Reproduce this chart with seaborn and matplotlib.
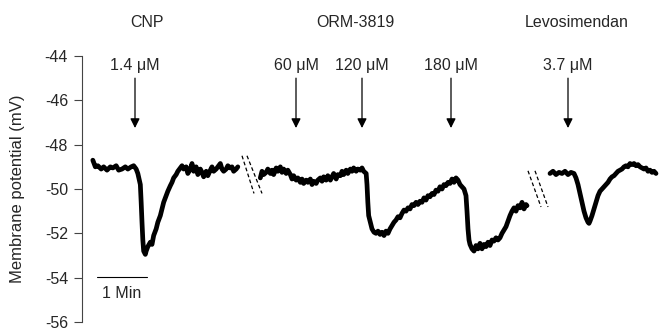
import numpy as np
import pandas as pd
import matplotlib
matplotlib.use("Agg")
import matplotlib.pyplot as plt
import seaborn as sns

# Membrane potential trace (time in s, potential in mV)
cnp_t = [13, 16, 19, 23, 26, 30, 34, 37, 41, 44, 48, 52, 55, 59, 62, 65, 67, 70, 71, 72,
         73, 74, 76, 77, 79, 82, 84, 86, 89, 91, 94, 96, 98, 101, 103, 106, 108, 110, 113,
         115, 118, 120, 122, 125, 127, 130, 132, 134, 137, 139, 142, 144, 146, 149, 151,
         154, 156, 158, 161, 163, 166, 168, 170, 173, 175, 178, 180, 182, 185, 187]
cnp_mv = [-48.7, -49.0, -48.95, -49.1, -49.0, -49.15, -49.0, -49.05, -48.95, -49.15, -49.1,
          -49.0, -49.1, -49.0, -48.95, -49.1, -49.3, -49.8, -50.6, -51.5, -52.3, -52.8,
          -52.95, -52.8, -52.6, -52.4, -52.5, -52.1, -51.8, -51.5, -51.2, -50.9, -50.6,
          -50.3, -50.1, -49.85, -49.7, -49.5, -49.35, -49.2, -49.05, -48.95, -49.1, -49.0,
          -49.3, -49.1, -48.85, -49.2, -49.0, -49.35, -49.1, -49.25, -49.45, -49.2, -49.4,
          -49.15, -49.0, -49.2, -49.1, -49.0, -48.85, -49.1, -49.2, -49.1, -48.95, -49.05,
          -49.0, -49.2, -49.1, -49.0]

orm_t = [214, 216, 218, 221, 223, 226, 228, 230, 233, 235, 238, 240, 242, 245, 247, 250,
         252, 254, 257, 259, 262, 264, 266, 269, 271, 274, 276, 278, 281, 283, 286, 288,
         290, 293, 295, 298, 300, 302, 305, 307, 310, 312, 314, 317, 319, 322, 324, 326,
         329, 331, 334, 336, 338, 341, 342, 343, 344, 346, 348, 350.4, 352.8, 355.2, 357.6,
         360, 362.4, 364.8, 367.2, 369.6, 372, 374.4, 376.8, 379.2, 381.6, 384, 386.4,
         388.8, 391.2, 393.6, 396, 398.4, 400.8, 403.2, 405.6, 408, 410.4, 412.8, 415.2,
         417.6, 420, 422.4, 424.8, 427.2, 429.6, 432, 434.4, 436.8, 439.2, 441.6, 444,
         446.4, 448.8, 451.2, 453.6, 456, 458.4, 460.8, 462, 463.2, 464.4, 465.6, 468,
         470.4, 472.8, 475.2, 477.6, 480, 482.4, 484.8, 487.2, 489.6, 492, 494.4, 496.8,
         499.2, 501.6, 504, 506.4, 508.8, 511.2, 513.6, 516, 518.4, 520.8, 523.2, 525.6,
         528, 530.4, 532.8, 534]
orm_mv = [-49.5, -49.2, -49.35, -49.25, -49.1, -49.3, -49.15, -49.35, -49.05, -49.2, -49.0,
          -49.25, -49.1, -49.3, -49.15, -49.35, -49.55, -49.4, -49.6, -49.5, -49.7, -49.55,
          -49.75, -49.6, -49.7, -49.55, -49.8, -49.65, -49.75, -49.6, -49.5, -49.65, -49.45,
          -49.6, -49.4, -49.6, -49.45, -49.3, -49.55, -49.35, -49.4, -49.2, -49.35, -49.15,
          -49.3, -49.1, -49.2, -49.05, -49.2, -49.1, -49.15, -49.05, -49.2, -49.3, -49.8,
          -50.6, -51.2, -51.5, -51.8, -51.95, -52.0, -51.9, -52.05, -51.95, -52.1, -51.9,
          -52.0, -51.8, -51.65, -51.5, -51.4, -51.25, -51.3, -51.1, -50.95, -51.0, -50.85,
          -50.9, -50.7, -50.75, -50.6, -50.7, -50.55, -50.6, -50.4, -50.5, -50.3, -50.35,
          -50.2, -50.25, -50.05, -50.1, -49.9, -50.0, -49.8, -49.85, -49.7, -49.75, -49.55,
          -49.7, -49.5, -49.6, -49.8, -49.9, -50.0, -50.3, -51.0, -51.8, -52.3, -52.5,
          -52.7, -52.8, -52.55, -52.7, -52.45, -52.7, -52.5, -52.6, -52.4, -52.55, -52.3,
          -52.35, -52.2, -52.3, -52.2, -52.0, -51.85, -51.7, -51.45, -51.2, -51.0, -50.85,
          -51.0, -50.75, -50.85, -50.6, -50.9, -50.7, -50.75]

levo_t = [561.6, 565.2, 568.8, 572.4, 576, 579.6, 583.2, 586.8, 590.4, 592.8, 595.2, 597.6,
          600, 602.4, 604.8, 607.2, 608.4, 609.6, 612, 614.4, 616.8, 619.2, 621.6, 624,
          626.4, 628.8, 631.2, 633.6, 636, 638.4, 640.8, 643.2, 645.6, 648, 650.4, 652.8,
          655.2, 657.6, 660, 662.4, 664.8, 667.2, 669.6, 672, 674.4, 676.8, 679.2, 681.6,
          684, 686.4, 688.8]
levo_mv = [-49.3, -49.2, -49.35, -49.25, -49.3, -49.2, -49.35, -49.25, -49.3, -49.5, -49.8,
           -50.2, -50.6, -51.0, -51.3, -51.5, -51.55, -51.45, -51.2, -50.9, -50.6, -50.3,
           -50.1, -50.0, -49.9, -49.8, -49.7, -49.55, -49.45, -49.4, -49.3, -49.2, -49.15,
           -49.1, -49.0, -48.95, -49.0, -48.85, -48.9, -48.85, -48.95, -48.9, -49.0, -49.05,
           -49.1, -49.05, -49.2, -49.15, -49.25, -49.2, -49.3]

# drug applications
dose_labels = ["1.4 \u03bcM", "60 \u03bcM", "120 \u03bcM", "180 \u03bcM", "3.7 \u03bcM"]
dose_times = [63.6, 256.8, 336, 442.8, 583.2]
groups = ["CNP", "ORM-3819", "Levosimendan"]
group_times = [78, 327.6, 594]

# axis breaks: (t_start, mv_start, t_end, mv_end)
break_marks = [(192, -48.5, 206.4, -50.2), (198, -48.5, 216, -50.2),
               (535.2, -49.18, 550.8, -50.81), (543.6, -49.18, 559.2, -50.81)]

df = pd.concat([
    pd.DataFrame({"time": cnp_t, "mV": cnp_mv, "seg": "CNP"}),
    pd.DataFrame({"time": orm_t, "mV": orm_mv, "seg": "ORM-3819"}),
    pd.DataFrame({"time": levo_t, "mV": levo_mv, "seg": "Levosimendan"}),
])

sns.set_style("ticks")
plt.rcParams["font.family"] = ["Liberation Sans", "DejaVu Sans"]

fig = plt.figure(figsize=(6.59, 3.32), dpi=100)
ax = fig.add_axes([82 / 659, 10 / 332, 577 / 659, 266 / 332])

sns.lineplot(data=df, x="time", y="mV", hue="seg", palette=["black"] * 3, legend=False,
             estimator=None, sort=False, lw=3.4, ax=ax)

ax.set_xlim(0, 692.4)
ax.set_ylim(-56, -44)
ax.set_yticks([-56, -54, -52, -50, -48, -46, -44])
ax.set_yticklabels(["-56", "-54", "-52", "-50", "-48", "-46", "-44"])
ax.set_xticks([])
ax.set_xlabel("")
ax.set_ylabel("Membrane potential (mV)", fontsize=12)
ax.yaxis.set_label_coords(-0.099, 0.5)
ax.tick_params(axis="y", labelsize=11.5, length=6, width=0.8, color="#444444", pad=4)
for s in ["top", "right", "bottom"]:
    ax.spines[s].set_visible(False)
ax.spines["left"].set_color("#444444")
ax.spines["left"].set_linewidth(0.8)

for x0, y0, x1, y1 in break_marks:
    ax.plot([x0, x1], [y0, y1], color="black", lw=0.9, ls=(0, (3, 2)))

for lab, t in zip(dose_labels, dose_times):
    ax.annotate("", xy=(t, -47.25), xytext=(t, -45.0),
                arrowprops=dict(arrowstyle="-|>", color="black", lw=0.9,
                                mutation_scale=14, shrinkA=0, shrinkB=0),
                annotation_clip=False)
    ax.text(t, -44.45, lab, ha="center", va="center", fontsize=11.5, clip_on=False)

for g, t in zip(groups, group_times):
    ax.text(t, -42.5, g, ha="center", va="center", fontsize=11.5, clip_on=False)

# 1 min scale bar
ax.plot([18, 78], [-53.96, -53.96], color="black", lw=0.8)
ax.text(48, -54.7, "1 Min", ha="center", va="center", fontsize=11.5)

fig.savefig("out.png", dpi=100)
